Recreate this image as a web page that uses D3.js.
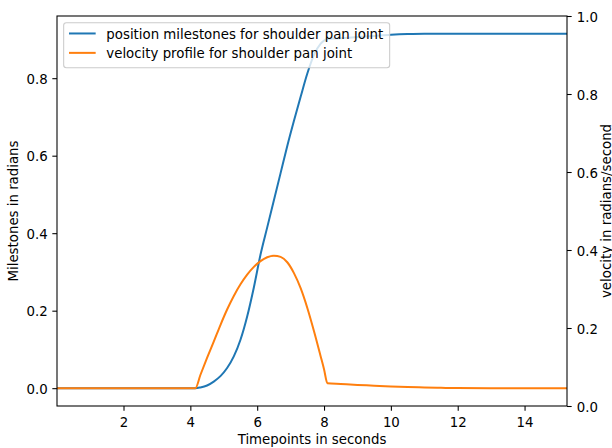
<!DOCTYPE html>
<html>
<head>
<meta charset="utf-8">
<script src="https://cdn.jsdelivr.net/npm/d3@7/dist/d3.min.js"></script>
<style>
  html, body { margin: 0; padding: 0; background: #fff; }
  svg { display: block; }
  text { font-family: "DejaVu Sans", sans-serif; fill: #000; }
</style>
</head>
<body>
<svg id="chart" width="612" height="448"></svg>
<script>
// ---- data ----
const timePoints = [0.01, 2, 4, 4.15, 4.3, 4.5, 4.7, 4.9, 5.1, 5.3, 5.5, 5.7, 5.9, 6.1, 6.3, 6.5, 6.7, 6.9, 7.1, 7.3, 7.5, 7.7, 7.9, 8.0, 8.1, 8.5, 9.0, 9.5, 10.0, 10.5, 11.0, 11.5, 12.0, 13.0, 14.0, 15.27];
const positionValues = [0, 0, 0, 0, 0.002, 0.007, 0.017, 0.031, 0.052, 0.082, 0.125, 0.185, 0.26, 0.345, 0.415, 0.485, 0.555, 0.625, 0.69, 0.752, 0.812, 0.86, 0.889, 0.897, 0.901, 0.903, 0.906, 0.909, 0.912, 0.914, 0.915, 0.915, 0.915, 0.915, 0.915, 0.915];
const velocityValues = [0, 0, 0, 0, 0.034, 0.078, 0.12, 0.163, 0.203, 0.238, 0.268, 0.293, 0.313, 0.328, 0.338, 0.342, 0.339, 0.325, 0.297, 0.258, 0.207, 0.147, 0.082, 0.049, 0.013, 0.011, 0.0085, 0.0065, 0.0045, 0.003, 0.0018, 0.001, 0.0003, 0, 0, 0];
const seriesNames = ["position milestones for shoulder pan joint", "velocity profile for shoulder pan joint"];
const xTicks = [2, 4, 6, 8, 10, 12, 14];
const leftTicks = [0.0, 0.2, 0.4, 0.6, 0.8];
const rightTicks = [0.0, 0.2, 0.4, 0.6, 0.8, 1.0];
const xDomain = [0.01, 15.27];
const leftDomain = [-0.046, 0.9605];
const rightDomain = [0, 1];
const xLabel = "Timepoints in seconds";
const leftLabel = "Milestones in radians";
const rightLabel = "velocity in radians/second";

// ---- layout ----
const svg = d3.select("#chart");
const L = 57, R = 567, T = 16, B = 406;
const fs = 13.33;
const tickLen = 4.67;
const colors = ["#1f77b4", "#ff7f0e"];

const x = d3.scaleLinear().domain(xDomain).range([L, R]);
const yL = d3.scaleLinear().domain(leftDomain).range([B, T]);
const yR = d3.scaleLinear().domain(rightDomain).range([B, T]);

svg.append("defs").append("clipPath").attr("id", "clip")
  .append("rect").attr("x", L).attr("y", T).attr("width", R - L).attr("height", B - T);

const rows = timePoints.map((t, i) => ({ t, p: positionValues[i], v: velocityValues[i] }));

const lineP = d3.line().x(d => x(d.t)).y(d => yL(d.p)).curve(d3.curveMonotoneX);
const lineV = d3.line().x(d => x(d.t)).y(d => yL(d.v)).curve(d3.curveMonotoneX);

const g = svg.append("g").attr("clip-path", "url(#clip)");
g.append("path").datum(rows).attr("d", lineP)
  .attr("fill", "none").attr("stroke", colors[0]).attr("stroke-width", 2)
  .attr("stroke-linecap", "square").attr("stroke-linejoin", "round");
g.append("path").datum(rows).attr("d", lineV)
  .attr("fill", "none").attr("stroke", colors[1]).attr("stroke-width", 2)
  .attr("stroke-linecap", "square").attr("stroke-linejoin", "round");

// ---- axes ----
function styleAxis(sel) {
  sel.select(".domain").remove();
  sel.selectAll(".tick line").attr("stroke", "#000").attr("stroke-width", 1.07);
  sel.selectAll(".tick text").attr("font-size", fs).attr("font-family", "DejaVu Sans, sans-serif").attr("fill", "#000");
}

const xAxis = svg.append("g").attr("transform", `translate(0,${B})`)
  .call(d3.axisBottom(x).tickValues(xTicks).tickFormat(d3.format("d")).tickSizeInner(tickLen).tickSizeOuter(0).tickPadding(4.67));
styleAxis(xAxis);
xAxis.selectAll(".tick text").attr("dy", null).attr("y", 20.5);

const leftAxis = svg.append("g").attr("transform", `translate(${L},0)`)
  .call(d3.axisLeft(yL).tickValues(leftTicks).tickFormat(d3.format(".1f")).tickSizeInner(tickLen).tickSizeOuter(0).tickPadding(4.67));
styleAxis(leftAxis);
leftAxis.selectAll(".tick text").attr("dy", null).attr("y", 5.2).attr("x", -9.3);

const rightAxis = svg.append("g").attr("transform", `translate(${R},0)`)
  .call(d3.axisRight(yR).tickValues(rightTicks).tickFormat(d3.format(".1f")).tickSizeInner(tickLen).tickSizeOuter(0).tickPadding(4.67));
styleAxis(rightAxis);
rightAxis.selectAll(".tick text").attr("dy", null).attr("y", 5.2).attr("x", 9.7);

// spines
svg.append("rect").attr("x", L).attr("y", T).attr("width", R - L).attr("height", B - T)
  .attr("fill", "none").attr("stroke", "#000").attr("stroke-width", 1.07);

// axis labels
svg.append("text").attr("x", (L + R) / 2).attr("y", 444).attr("text-anchor", "middle")
  .attr("font-size", fs).text(xLabel);
svg.append("text").attr("transform", `translate(18.3,${(T + B) / 2}) rotate(-90)`).attr("text-anchor", "middle")
  .attr("font-size", fs).text(leftLabel);
svg.append("text").attr("transform", `translate(${612 - 1.5},${(T + B) / 2}) rotate(-90)`).attr("text-anchor", "middle")
  .attr("font-size", fs).text(rightLabel);

// ---- legend ----
const lg = svg.append("g");
const lx = L + 6.67, ly = T + 6.67;
const itemH = 19.4;
const lw = 326, lh = 45;
lg.append("rect").attr("x", lx).attr("y", ly).attr("width", lw).attr("height", lh)
  .attr("rx", 2.67).attr("ry", 2.67)
  .attr("fill", "#fff").attr("fill-opacity", 0.8).attr("stroke", "#cccccc").attr("stroke-width", 1.07);
seriesNames.forEach((name, i) => {
  const cy = ly + 10.8 + i * itemH;
  lg.append("line").attr("x1", lx + 5.33).attr("x2", lx + 5.33 + 26.67).attr("y1", cy).attr("y2", cy)
    .attr("stroke", colors[i]).attr("stroke-width", 2);
  lg.append("text").attr("x", lx + 5.33 + 26.67 + 10.67).attr("y", cy + 5.3)
    .attr("font-size", fs).text(name);
});
</script>
</body>
</html>
